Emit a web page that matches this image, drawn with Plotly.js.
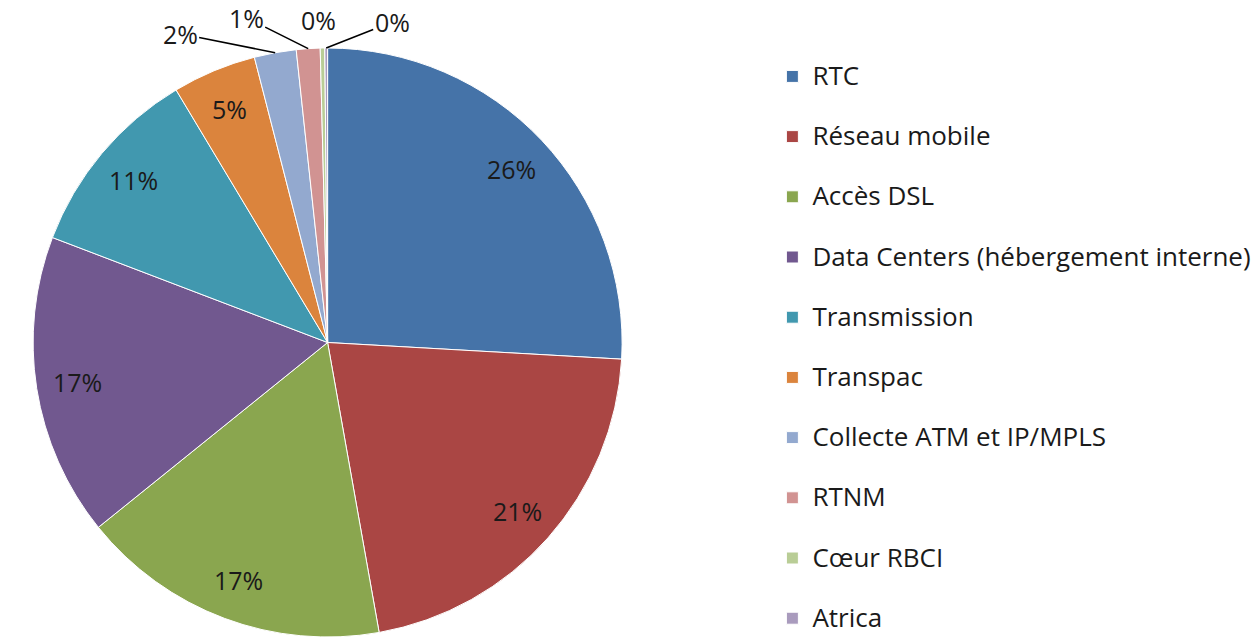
<!DOCTYPE html>
<html><head><meta charset="utf-8">
<script src="https://cdn.plot.ly/plotly-3.0.1.min.js"></script>
<style>html,body{margin:0;padding:0;background:#fff}#chart{width:1260px;height:637px}</style>
</head><body><div id="chart"></div>
<script>
// ---- data ----
var categories = ["RTC", "Réseau mobile", "Accès DSL", "Data Centers (hébergement interne)", "Transmission", "Transpac", "Collecte ATM et IP/MPLS", "RTNM", "Cœur RBCI", "Atrica"];
var shares = [25.9, 21.3, 17.0, 16.6, 10.6, 4.6, 2.3, 1.3, 0.25, 0.15];
var colors = ["#4573A8", "#AA4644", "#8AA64F", "#71588F", "#4198AF", "#DB843D", "#93A9CF", "#D19392", "#B9CD96", "#A99BBD"];

// ---- label placement style (pixel offsets for outside labels; null = inside) ----
var outsideOffsets = [null, null, null, null, null, null, [-95, -19], [-62, -31], [-4, -28], [66, -26]];
var leaderLine = [false, false, false, false, false, false, true, true, false, true];
var insideRadius = 0.86;

// ---- geometry from layout ----
var W = 1260, H = 637, mT = 48, mB = 0;
var domX = [0, 0.52], domY = [0, 1];
var plotH = H - mT - mB;
var rPx = Math.min((domX[1] - domX[0]) * W, (domY[1] - domY[0]) * plotH) / 2;
var cx = (domX[0] + domX[1]) / 2, cy = (domY[0] + domY[1]) / 2;
var total = shares.reduce(function (a, b) { return a + b; }, 0);

var FONT = "Open Sans";
var annotations = [];
var cum = 0;
shares.forEach(function (v, i) {
  var mid = (cum + v / 2) / total * 2 * Math.PI;
  cum += v;
  var txt = Math.round(v / total * 100) + "%";
  var off = outsideOffsets[i];
  var f = off ? 1 : insideRadius;
  var a = {
    xref: "paper", yref: "paper",
    x: cx + rPx * f * Math.sin(mid) / W,
    y: cy + rPx * f * Math.cos(mid) / plotH,
    text: txt, xanchor: "center", yanchor: "middle",
    font: {family: FONT, size: 25, color: "#1a1a1a"},
    showarrow: false
  };
  if (off) {
    if (leaderLine[i]) {
      a.showarrow = true; a.arrowhead = 0; a.arrowwidth = 1.6; a.arrowcolor = "#000000";
      a.ax = off[0]; a.ay = off[1]; a.standoff = 0; a.startstandoff = 0;
    } else {
      a.xshift = off[0]; a.yshift = -off[1];
    }
  }
  annotations.push(a);
});

var trace = {
  type: "pie",
  labels: categories,
  values: shares,
  sort: false,
  direction: "clockwise",
  rotation: 0,
  marker: {colors: colors, line: {color: "#ffffff", width: 1}},
  textinfo: "none",
  hoverinfo: "label+percent",
  domain: {x: domX, y: domY}
};

var layout = {
  width: W, height: H,
  margin: {l: 0, r: 0, t: mT, b: mB, autoexpand: false},
  paper_bgcolor: "#ffffff",
  font: {family: FONT, size: 22, color: "#1a1a1a"},
  showlegend: true,
  annotations: annotations,
  legend: {
    xref: "container", yref: "container",
    x: 0.613, y: 0.9127, xanchor: "left", yanchor: "top",
    valign: "top",
    maxheight: 640,
    font: {family: FONT, size: 22, color: "#1a1a1a"},
    bgcolor: "rgba(0,0,0,0)"
  }
};

// legend rows are spaced like the reference by giving each entry a blank second line
var gd = document.getElementById("chart");
Plotly.newPlot(gd, [trace], layout, {displayModeBar: false, staticPlot: true}).then(function () {
  var last = categories.length - 1;
  var legendLabels = categories.map(function (c, i) {
    return '<span style="font-size:26px">' + c + '</span>' + (i < last ? '<br> ' : '');
  });
  return Plotly.restyle(gd, {labels: [legendLabels], hovertext: [categories]});
});
</script></body></html>
